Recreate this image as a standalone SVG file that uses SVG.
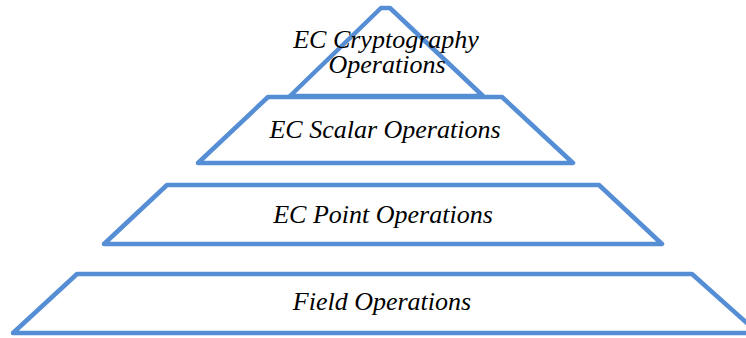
<svg xmlns="http://www.w3.org/2000/svg" width="746" height="338" viewBox="0 0 746 338">
<style>
.sh{fill:#fff;stroke:#558ED5;stroke-width:4.5;stroke-linejoin:round}
.t{font-family:'Liberation Serif',serif;font-style:italic;font-size:26px;fill:#000;text-anchor:middle}
</style>
<rect width="746" height="338" fill="#fff"/>
<g id="crypto">
<polygon class="sh" points="290,96 381,8 390,8 483,96"/>
</g>
<g id="scalar">
<polygon class="sh" points="268,97 502,97 573,163 198,163"/>
<text class="t" x="385" y="138">EC Scalar Operations</text>
</g>
<g id="crypto-label">
<text class="t" x="386" y="48">EC Cryptography</text>
<text class="t" x="387" y="73">Operations</text>
</g>
<g id="point">
<polygon class="sh" points="167,185 599,185 662,244 104,244"/>
<text class="t" x="383" y="223">EC Point Operations</text>
</g>
<g id="field">
<polygon class="sh" points="77,274 692,274 758,333 13,333"/>
<text class="t" x="382" y="310">Field Operations</text>
</g>
<g id="connectors"/>
</svg>
